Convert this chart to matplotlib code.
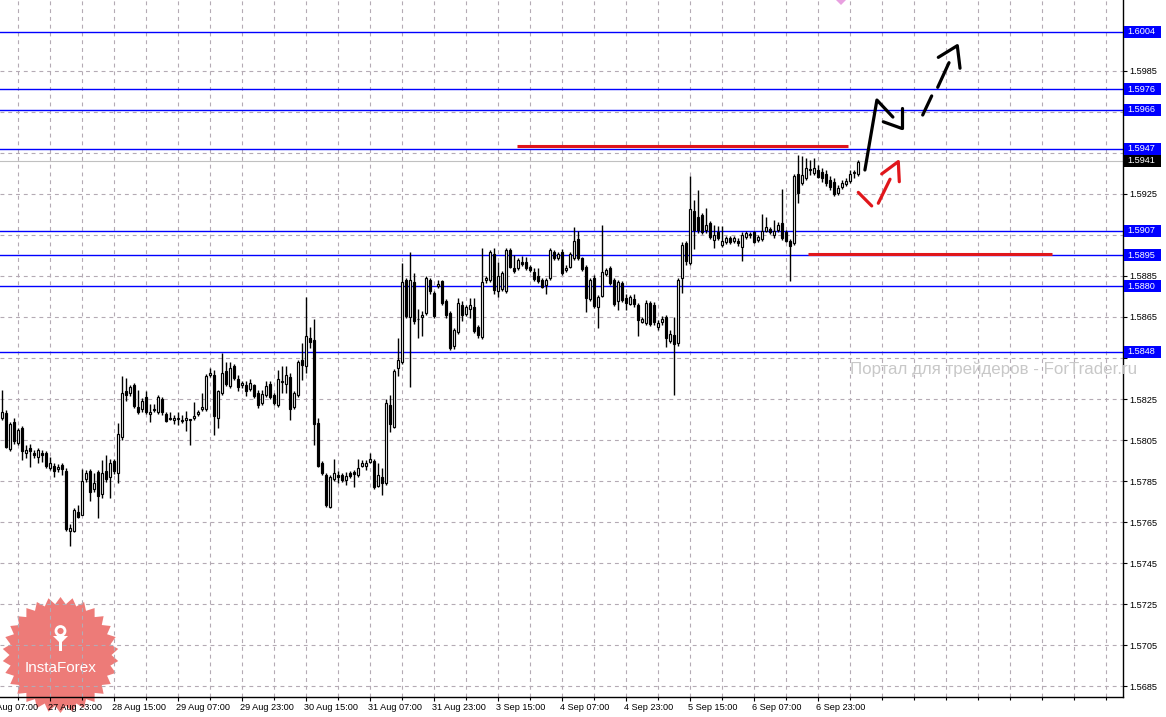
import numpy as np
import matplotlib
matplotlib.use("Agg")
import matplotlib.pyplot as plt
from matplotlib.patches import Rectangle, Polygon
import matplotlib.transforms as mtransforms

# ---------------- data (H1 bars) ----------------
opens = [
 1.58157,1.58181,1.58007,1.58140,1.58038,1.58110,1.57986,1.58012,1.57989,1.57966,
 1.57989,1.57986,1.57916,1.57925,1.57908,1.57929,1.57900,1.57609,1.57609,1.57699,
 1.57687,1.57859,1.57901,1.57810,1.57892,1.57786,1.57900,1.57871,1.57949,1.57889,
 1.58067,1.58290,1.58279,1.58319,1.58212,1.58201,1.58260,1.58178,1.58197,1.58186,
 1.58250,1.58178,1.58154,1.58148,1.58153,1.58145,1.58148,1.58148,1.58157,1.58175,
 1.58201,1.58201,1.58368,1.58368,1.58157,1.58279,1.58387,1.58311,1.58412,1.58346,
 1.58316,1.58319,1.58298,1.58316,1.58279,1.58230,1.58271,1.58324,1.58271,1.58219,
 1.58334,1.58324,1.58356,1.58211,1.58271,1.58441,1.58409,1.58547,1.58538,1.58135,
 1.57940,1.57880,1.57726,1.57859,1.57879,1.57880,1.57853,1.57889,1.57894,1.57880,
 1.57925,1.57925,1.57945,1.57948,1.57828,1.57872,1.57840,1.58222,1.58116,1.58400,
 1.58428,1.58831,1.58649,1.58820,1.58640,1.58649,1.58668,1.58831,1.58766,1.58801,
 1.58823,1.58728,1.58670,1.58506,1.58576,1.58709,1.58666,1.58688,1.58696,1.58600,
 1.58552,1.58828,1.58831,1.58957,1.58777,1.58787,1.58777,1.58977,1.58887,1.58887,
 1.58920,1.58920,1.58895,1.58871,1.58850,1.58831,1.58806,1.58839,1.58966,1.58937,
 1.58966,1.58879,1.58895,1.58937,1.59030,1.58937,1.58895,1.58738,1.58842,1.58696,
 1.58754,1.58858,1.58887,1.58831,1.58728,1.58814,1.58741,1.58715,1.58738,1.58709,
 1.58627,1.58620,1.58717,1.58709,1.58602,1.58626,1.58650,1.58533,1.58562,1.58524,
 1.58839,1.59010,1.58912,1.59167,1.59139,1.59147,1.59074,1.59107,1.59025,1.59062,
 1.59001,1.59017,1.59035,1.59022,1.59022,1.58993,1.59039,1.59049,1.59062,1.59025,
 1.59029,1.59070,1.59078,1.59049,1.59074,1.59110,1.59066,1.59022,1.59010,1.59347,
 1.59302,1.59326,1.59367,1.59353,1.59367,1.59358,1.59347,1.59318,1.59307,1.59256,
 1.59285,1.59298,1.59314,1.59353,1.59347]
highs = [
 1.58292,1.58197,1.58139,1.58157,1.58110,1.58119,1.58027,1.58032,1.58002,1.58010,
 1.58002,1.57997,1.57969,1.57939,1.57934,1.57937,1.57913,1.57640,1.57720,1.57734,
 1.57910,1.57905,1.57910,1.57889,1.57905,1.57953,1.57978,1.57956,1.57958,1.58132,
 1.58360,1.58352,1.58319,1.58327,1.58295,1.58256,1.58287,1.58226,1.58226,1.58271,
 1.58261,1.58185,1.58185,1.58173,1.58185,1.58173,1.58190,1.58151,1.58236,1.58197,
 1.58279,1.58373,1.58402,1.58392,1.58295,1.58474,1.58428,1.58428,1.58421,1.58368,
 1.58339,1.58340,1.58346,1.58324,1.58295,1.58295,1.58336,1.58336,1.58280,1.58389,
 1.58412,1.58412,1.58376,1.58290,1.58441,1.58522,1.58746,1.58600,1.58639,1.58157,
 1.57948,1.57890,1.57880,1.57958,1.57901,1.57890,1.57896,1.57901,1.57905,1.57956,
 1.57953,1.57953,1.57986,1.57958,1.57937,1.57913,1.58250,1.58271,1.58397,1.58547,
 1.58912,1.58841,1.58964,1.58866,1.58688,1.58681,1.58850,1.58841,1.58777,1.58831,
 1.58831,1.58738,1.58680,1.58597,1.58744,1.58728,1.58709,1.58744,1.58744,1.58611,
 1.58988,1.58850,1.58977,1.58985,1.58918,1.58875,1.58987,1.58987,1.58952,1.58938,
 1.58947,1.58941,1.58904,1.58889,1.58887,1.58841,1.58841,1.58988,1.58977,1.58967,
 1.58980,1.58904,1.58967,1.59087,1.59071,1.58943,1.58904,1.58841,1.58855,1.58758,
 1.59099,1.58889,1.58899,1.58841,1.58831,1.58826,1.58761,1.58758,1.58761,1.58718,
 1.58650,1.58733,1.58728,1.58723,1.58636,1.58655,1.58660,1.58587,1.58650,1.58841,
 1.59017,1.59022,1.59337,1.59220,1.59269,1.59157,1.59180,1.59118,1.59099,1.59094,
 1.59091,1.59045,1.59045,1.59045,1.59035,1.59066,1.59070,1.59066,1.59070,1.59049,
 1.59152,1.59139,1.59089,1.59120,1.59113,1.59272,1.59074,1.59030,1.59347,1.59440,
 1.59435,1.59424,1.59415,1.59424,1.59391,1.59376,1.59367,1.59337,1.59328,1.59294,
 1.59318,1.59328,1.59367,1.59367,1.59415]
lows = [
 1.58148,1.58012,1.57997,1.58032,1.58027,1.57953,1.57961,1.57918,1.57963,1.57937,
 1.57945,1.57915,1.57905,1.57872,1.57895,1.57880,1.57609,1.57536,1.57603,1.57671,
 1.57685,1.57846,1.57755,1.57798,1.57669,1.57767,1.57846,1.57767,1.57885,1.57840,
 1.58051,1.58238,1.58266,1.58207,1.58178,1.58188,1.58178,1.58140,1.58189,1.58178,
 1.58173,1.58137,1.58148,1.58127,1.58124,1.58134,1.58095,1.58028,1.58148,1.58168,
 1.58192,1.58192,1.58358,1.58075,1.58108,1.58271,1.58311,1.58304,1.58343,1.58287,
 1.58304,1.58266,1.58290,1.58256,1.58206,1.58219,1.58261,1.58251,1.58222,1.58212,
 1.58279,1.58279,1.58148,1.58202,1.58261,1.58343,1.58376,1.58498,1.58027,1.57919,
 1.57880,1.57726,1.57718,1.57851,1.57840,1.57846,1.57832,1.57866,1.57820,1.57871,
 1.57919,1.57905,1.57939,1.57812,1.57822,1.57783,1.57832,1.58089,1.58110,1.58363,
 1.58421,1.58646,1.58308,1.58616,1.58547,1.58555,1.58660,1.58762,1.58646,1.58791,
 1.58709,1.58646,1.58490,1.58495,1.58567,1.58631,1.58655,1.58643,1.58572,1.58547,
 1.58543,1.58816,1.58821,1.58762,1.58746,1.58777,1.58767,1.58889,1.58865,1.58879,
 1.58899,1.58879,1.58869,1.58826,1.58816,1.58792,1.58762,1.58831,1.58928,1.58928,
 1.58855,1.58869,1.58889,1.58928,1.58928,1.58874,1.58676,1.58728,1.58694,1.58595,
 1.58748,1.58850,1.58806,1.58704,1.58684,1.58723,1.58684,1.58709,1.58696,1.58555,
 1.58621,1.58611,1.58606,1.58611,1.58587,1.58611,1.58504,1.58524,1.58270,1.58509,
 1.58766,1.58904,1.58904,1.58980,1.59058,1.59055,1.59058,1.59030,1.58985,1.59025,
 1.58991,1.59006,1.59006,1.59010,1.58996,1.58925,1.59030,1.59035,1.59010,1.59016,
 1.59020,1.59064,1.59055,1.59035,1.59064,1.59025,1.59016,1.58827,1.59001,1.59204,
 1.59293,1.59318,1.59342,1.59342,1.59328,1.59308,1.59289,1.59269,1.59240,1.59245,
 1.59274,1.59289,1.59303,1.59326,1.59337]
closes = [
 1.58186,1.58018,1.58129,1.58043,1.58100,1.57999,1.58002,1.57999,1.57976,1.58002,
 1.57976,1.57925,1.57937,1.57897,1.57921,1.57908,1.57617,1.57620,1.57710,1.57677,
 1.57851,1.57890,1.57799,1.57843,1.57775,1.57889,1.57861,1.57937,1.57897,1.58079,
 1.58279,1.58271,1.58308,1.58217,1.58186,1.58241,1.58186,1.58188,1.58201,1.58260,
 1.58185,1.58145,1.58153,1.58157,1.58155,1.58146,1.58157,1.58149,1.58167,1.58186,
 1.58211,1.58360,1.58379,1.58165,1.58287,1.58376,1.58324,1.58400,1.58351,1.58308,
 1.58328,1.58287,1.58328,1.58267,1.58219,1.58275,1.58311,1.58262,1.58230,1.58346,
 1.58336,1.58368,1.58201,1.58279,1.58430,1.58417,1.58555,1.58527,1.58127,1.57925,
 1.57889,1.57734,1.57869,1.57889,1.57869,1.57856,1.57877,1.57877,1.57885,1.57916,
 1.57937,1.57937,1.57956,1.57820,1.57879,1.57840,1.58230,1.58127,1.58387,1.58441,
 1.58820,1.58655,1.58831,1.58628,1.58639,1.58660,1.58839,1.58774,1.58655,1.58811,
 1.58717,1.58657,1.58498,1.58587,1.58717,1.58660,1.58697,1.58709,1.58583,1.58562,
 1.58820,1.58839,1.58966,1.58782,1.58850,1.58864,1.58977,1.58895,1.58874,1.58928,
 1.58907,1.58887,1.58879,1.58835,1.58823,1.58798,1.58831,1.58977,1.58937,1.58957,
 1.58864,1.58890,1.58957,1.59020,1.58937,1.58884,1.58744,1.58831,1.58705,1.58749,
 1.58868,1.58879,1.58814,1.58712,1.58820,1.58733,1.58717,1.58749,1.58712,1.58636,
 1.58640,1.58717,1.58616,1.58626,1.58621,1.58640,1.58548,1.58567,1.58519,1.58831,
 1.59001,1.58925,1.59175,1.59074,1.59074,1.59066,1.59099,1.59039,1.59049,1.59035,
 1.59022,1.59035,1.59017,1.59035,1.59010,1.59049,1.59058,1.59050,1.59017,1.59039,
 1.59070,1.59087,1.59062,1.59069,1.59099,1.59035,1.59022,1.58996,1.59337,1.59253,
 1.59342,1.59375,1.59368,1.59375,1.59334,1.59326,1.59302,1.59285,1.59250,1.59277,
 1.59302,1.59310,1.59347,1.59355,1.59407]

# time axis labels (bar index -> label)
xlabel_pos = [-4, 12, 28, 44, 60, 76, 92, 108, 124, 140, 156, 172, 188, 204]
xlabel_txt = ["27 Aug 07:00", "27 Aug 23:00", "28 Aug 15:00", "29 Aug 07:00",
              "29 Aug 23:00", "30 Aug 15:00", "31 Aug 07:00", "31 Aug 23:00",
              "3 Sep 15:00", "4 Sep 07:00", "4 Sep 23:00", "5 Sep 15:00",
              "6 Sep 07:00", "6 Sep 23:00"]
price_ticks = [1.5685, 1.5705, 1.5725, 1.5745, 1.5765, 1.5785, 1.5805, 1.5825,
               1.5845, 1.5865, 1.5885, 1.5905, 1.5925, 1.5945, 1.5965, 1.5985]
hidden_ticks = [1.5845, 1.5905, 1.5945, 1.5965]   # covered by level boxes

# horizontal levels
blue_levels = [1.6004, 1.5976, 1.5966, 1.5947, 1.5907, 1.5895, 1.5880, 1.5848]
bid_price = 1.5941
red_levels = [1.59483, 1.58955]
red_start = [128.8, 201.6]
red_end = [211.6, 262.6]

# hand-drawn forecast arrows (bar index, price)
black_path_x = [215.8, 218.8, 222.8]
black_path_y = [1.59366, 1.59707, 1.59624]
black_head_x = [220.4, 224.98, 224.98]
black_head_y = [1.59601, 1.59569, 1.59668]
dash_seg_x = [[230.25, 232.5], [234.0, 236.83]]
dash_seg_y = [[1.59634, 1.59727], [1.59769, 1.59889]]
dash_head_x = [234.15, 238.9, 239.58]
dash_head_y = [1.59915, 1.59972, 1.59862]
red_seg_x = [[214.15, 217.5], [219.15, 222.08]]
red_seg_y = [[1.59257, 1.59191], [1.59204, 1.59321]]
red_head_x = [220.0, 224.15, 224.4]
red_head_y = [1.59347, 1.59407, 1.59309]

# ---------------- figure ----------------
W, H = 1166, 717
fig = plt.figure(figsize=(W / 100, H / 100), dpi=100, facecolor="white")

# background overlay (logo) in pixel coordinates
bg = fig.add_axes([0, 0, 1, 1], zorder=0)
bg.set_xlim(0, W)
bg.set_ylim(H, 0)
bg.axis("off")
cx, cy, R1, R2, n = 60.5, 655, 58, 51, 30
ang = np.linspace(0, 2 * np.pi, 2 * n, endpoint=False) + np.pi / 2
rad = np.where(np.arange(2 * n) % 2 == 0, R1, R2)
star = np.column_stack([cx + rad * np.cos(ang), cy + rad * np.sin(ang)])
bg.add_patch(Polygon(star, closed=True, facecolor="#ea6461", edgecolor="none", alpha=0.85))
bg.text(cx, 668, "InstaForex", color="white", fontsize=11, ha="center", va="center",
        family="Liberation Sans")
bg.add_patch(Polygon([[53, 636], [68, 636], [62, 642], [62, 651], [59, 651], [59, 642]],
                     closed=True, facecolor="white", edgecolor="none"))
bg.add_patch(plt.Circle((60.5, 631), 4.5, facecolor="none", edgecolor="white", lw=2))
bg.add_patch(Polygon([[836, 0], [846, 0], [841, 5]], closed=True, facecolor="#e8a0e0",
                     edgecolor="none"))

ax = fig.add_axes([0, (H - 697) / H, 1122.5 / W, 697 / H], zorder=1)
ax.set_facecolor("none")

grid_kw = dict(color="#b4aab4", lw=0.8, ls=(0, (3.5, 3.5)), zorder=1)
for p in price_ticks:
    ax.axhline(p, **grid_kw)
for gx in range(4, 281, 8):
    ax.axvline(gx, **grid_kw)

# levels
for lv in blue_levels:
    ax.axhline(lv, color="#0000ff", lw=1.0, zorder=2)
ax.axhline(bid_price, color="#c0c0c0", lw=0.8, zorder=2)
for lv, s, e in zip(red_levels, red_start, red_end):
    ax.plot([s, e], [lv, lv], color="#e0161b", lw=2.2, solid_capstyle="butt", zorder=5)

# candles
xs = np.arange(len(opens))
o = np.array(opens); h = np.array(highs); l = np.array(lows); c = np.array(closes)
ax.vlines(xs, l, h, color="black", lw=1.0, zorder=3)
bw = 0.6
minh = 0.6 / 20520
for i in xs:
    bot = min(o[i], c[i]); top = max(o[i], c[i])
    hgt = max(top - bot, minh)
    fc = "white" if c[i] >= o[i] else "black"
    ax.add_patch(Rectangle((i - bw / 2, bot), bw, hgt, facecolor=fc, edgecolor="black",
                           lw=0.85, zorder=4))

# arrows
akw = dict(color="black", lw=2.3, solid_capstyle="round", zorder=6)
ax.plot(black_path_x, black_path_y, **akw)
ax.plot(black_head_x[:2], black_head_y[:2], **akw)
ax.plot(black_head_x[1:], black_head_y[1:], **akw)
for sx, sy in zip(dash_seg_x, dash_seg_y):
    ax.plot(sx, sy, **akw)
ax.plot(dash_head_x, dash_head_y, **akw)
rkw = dict(color="#e0161b", lw=2.3, solid_capstyle="round", zorder=6)
for sx, sy in zip(red_seg_x, red_seg_y):
    ax.plot(sx, sy, **rkw)
ax.plot(red_head_x, red_head_y, **rkw)

# axes styling
for s in ["top", "left"]:
    ax.spines[s].set_visible(False)
for s in ["right", "bottom"]:
    ax.spines[s].set_color("black")
    ax.spines[s].set_linewidth(1.0)
ax.yaxis.tick_right()
ax.set_yticks(price_ticks)
ax.set_yticklabels(["" if p in hidden_ticks else f"{p:.4f}" for p in price_ticks])
ax.tick_params(axis="y", length=3, pad=2, width=0.8, labelsize=6.6, colors="black")
ax.set_xticks(xlabel_pos[1:])
ax.set_xticklabels(xlabel_txt[1:])
ax.set_xticks(list(range(4, 281, 8)), minor=True)
ax.tick_params(axis="x", which="major", length=3, pad=1.5, width=0.8, labelsize=6.6)
ax.tick_params(axis="x", which="minor", length=2, width=0.8)
offset = mtransforms.ScaledTranslation(-2 / 100, 0, fig.dpi_scale_trans)
for lbl in ax.get_xticklabels():
    lbl.set_ha("left")
    lbl.set_family("Liberation Sans")
    lbl.set_transform(lbl.get_transform() + offset)
for lbl in ax.get_yticklabels():
    lbl.set_family("Liberation Sans")

# limits set after ticks (set_xticks would widen them)
ax.set_xlim(-0.425, 280.2)
ax.set_ylim(1.567978, 1.601945)

# first time label lies left of the visible area: draw it unclipped
xblend = mtransforms.blended_transform_factory(ax.transData, ax.transAxes)
ax.text(xlabel_pos[0], 0, xlabel_txt[0], transform=xblend + mtransforms.ScaledTranslation(
        -2 / 100, -6.4 / 100, fig.dpi_scale_trans), fontsize=6.6,
        family="Liberation Sans", ha="left", va="top", clip_on=False)

# price label boxes on the right axis
blend = mtransforms.blended_transform_factory(ax.transAxes, ax.transData)
bh = 12 / 20520
for lv, col in [(v, "#0000ff") for v in blue_levels] + [(bid_price, "black")]:
    ax.add_patch(Rectangle((1123.5 / 1122.5, lv - bh / 2), 37.5 / 1122.5, bh,
                           transform=blend, facecolor=col, edgecolor="none",
                           clip_on=False, zorder=7))
    ax.text(1127 / 1122.5, lv, f"{lv:.4f}", transform=blend, color="white",
            fontsize=6.6, family="Liberation Sans", va="center", ha="left",
            clip_on=False, zorder=8)

# watermark
fig.text(850 / W, 1 - 369 / H, "Портал для трейдеров - ForTrader.ru", color="#c8c8c8",
         fontsize=12.2, family="Liberation Sans", va="center", ha="left", zorder=10)

fig.savefig("out.png", dpi=100, facecolor="white")
